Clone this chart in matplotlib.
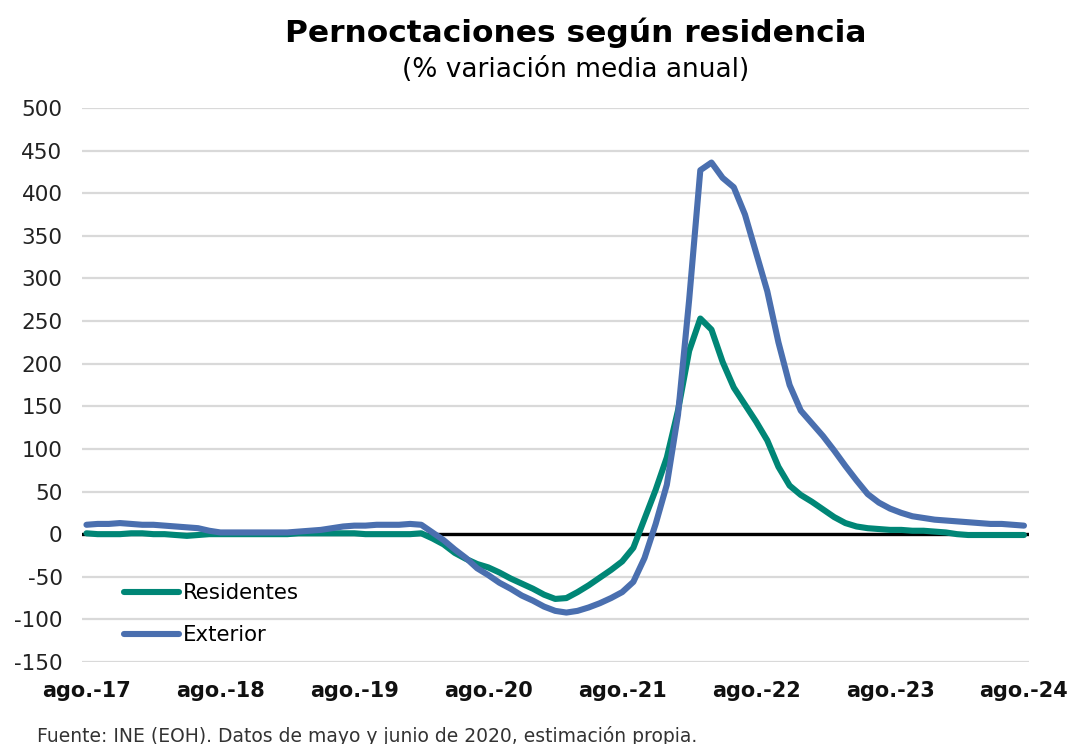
import matplotlib
matplotlib.use("Agg")
import matplotlib.pyplot as plt
import numpy as np

# Monthly series, ago-2017 .. ago-2024
residentes = [1, 0, 0, 0, 1, 1, 0, 0, -1, -2, -1, 0, 0, 0, 0, 0, 0, 0, 0,
              1, 1, 1, 1, 1, 1, 0, 0, 0, 0, 0, 1, -5, -12, -22, -29, -35, -39, -45, -52,
              -58, -64, -71, -76, -75, -68, -60, -51, -42, -32, -16, 18, 52, 90, 145, 215,
              253, 240, 202, 172, 152, 132, 110, 79, 57, 46, 38, 29, 20, 13,
              9, 7, 6, 5, 5, 4, 4, 3, 2, 0, -1, -1, -1, -1, -1, -1]
exterior = [11, 12, 12, 13, 12, 11, 11, 10, 9, 8, 7, 4, 2, 2, 2, 2, 2, 2, 2,
            3, 4, 5, 7, 9, 10, 10, 11, 11, 11, 12, 11, 2, -7, -18, -28, -40, -48, -57, -64,
            -72, -78, -85, -90, -92, -90, -86, -81, -75, -68, -56, -28, 12, 58, 140, 275,
            427, 436, 418, 407, 375, 330, 285, 225, 175, 145, 130, 115, 98, 80,
            63, 47, 37, 30, 25, 21, 19, 17, 16, 15, 14, 13, 12, 12, 11, 10]
tick_labels = ['ago.-17', 'ago.-18', 'ago.-19', 'ago.-20', 'ago.-21', 'ago.-22', 'ago.-23', 'ago.-24']
yticks = list(range(-150, 501, 50))

x = np.arange(len(residentes))

fig = plt.figure(figsize=(10.73, 7.44), dpi=100)
ax = fig.add_axes([82/1073, 1-662/744, (1029-82)/1073, (662-108)/744])

for y in yticks:
    ax.axhline(y, color='#d9d9d9', lw=1.6, zorder=0)
ax.axhline(0, color='black', lw=2.4, zorder=1)

ax.plot(x, residentes, color='#008676', lw=4.4, solid_capstyle='round', solid_joinstyle='round',
        label='Residentes', zorder=3)
ax.plot(x, exterior, color='#4A6FAF', lw=4.4, solid_capstyle='round', solid_joinstyle='round',
        label='Exterior', zorder=4)

ax.set_ylim(-150, 500)
ax.set_xlim(-0.4, 84.45)
ax.set_yticks(yticks)
ax.set_yticklabels([str(v) for v in yticks], fontsize=15.5, color='#222222')
ax.set_xticks(np.arange(0, len(x), 12))
ax.set_xticklabels(tick_labels, fontsize=15, fontweight='bold', color='#111111')
ax.tick_params(axis='both', length=0)
ax.tick_params(axis='y', pad=14)
ax.tick_params(axis='x', pad=14)
for s in ax.spines.values():
    s.set_visible(False)

leg = ax.legend(loc='upper left', bbox_to_anchor=(0.026, 0.173), frameon=False,
                fontsize=15.3, handlelength=2.6, handletextpad=0.2, labelspacing=1.05,
                borderpad=0.3)

fig.text(0.537, 1-33/744, 'Pernoctaciones según residencia', ha='center', va='center',
         fontsize=22.5, fontweight='bold', color='black')
fig.text(0.536, 1-70/744, '(% variación media anual)', ha='center', va='center',
         fontsize=19, color='black')
fig.text(37/1073, 1-736/744, 'Fuente: INE (EOH). Datos de mayo y junio de 2020, estimación propia.',
         ha='left', va='center', fontsize=13.5, color='#333333')

fig.savefig('out.png', dpi=100)
